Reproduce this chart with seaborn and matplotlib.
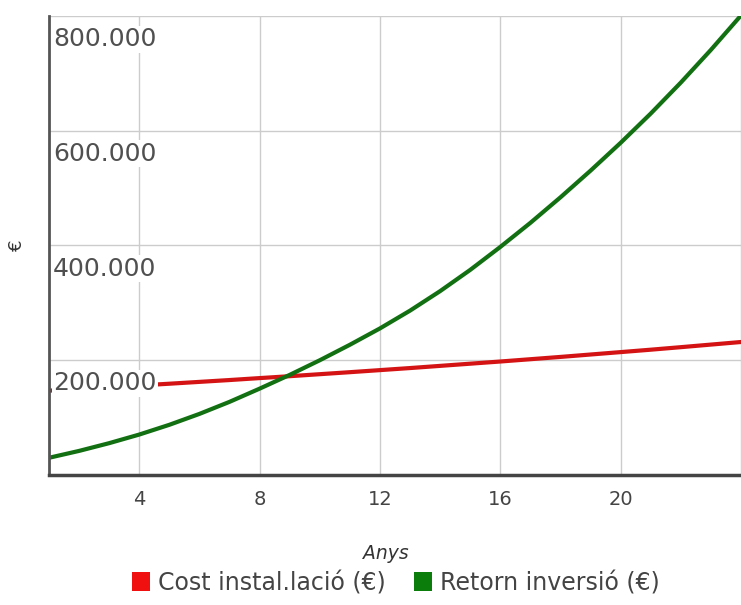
import matplotlib
matplotlib.use("Agg")
import matplotlib.pyplot as plt
import matplotlib.transforms as mtransforms
from matplotlib.patches import Patch
import pandas as pd
import seaborn as sns

# Years of the installation's life
anys = list(range(1, 25))

# Installation cost (EUR), growing slowly over time
cost_installacio = [
    147000, 149900, 152900, 156000, 159100, 162300, 165500, 168900,
    172200, 175700, 179200, 182800, 186400, 190200, 194000, 197800,
    201800, 205800, 210000, 214200, 218400, 222800, 227300, 231800,
]

# Accumulated return on investment (EUR)
retorn_inversio = [
    30000, 42000, 55500, 70500, 87500, 106500, 127500, 150500,
    174500, 200000, 227000, 255500, 286500, 320500, 357500, 397500,
    439500, 484000, 530500, 579000, 630000, 684000, 741000, 801000,
]

serie_cost = "Cost instal.lació (€)"
serie_retorn = "Retorn inversió (€)"
colors = {serie_cost: "#d41414", serie_retorn: "#127012"}
swatch = {serie_cost: "#f01010", serie_retorn: "#0a7d0a"}

y_ticks = [200000, 400000, 600000, 800000]
y_tick_labels = ["200.000", "400.000", "600.000", "800.000"]
x_ticks = [4, 8, 12, 16, 20]
x_tick_labels = ["4", "8", "12", "16", "20"]

df = pd.DataFrame({
    "Anys": anys * 2,
    "valor": cost_installacio + retorn_inversio,
    "serie": [serie_cost] * len(anys) + [serie_retorn] * len(anys),
})

sns.set_style("white")
plt.rcParams["font.family"] = ["DejaVu Sans"]

W, H = 741, 605
fig = plt.figure(figsize=(W / 100, H / 100), dpi=100)
ax = fig.add_axes([49 / W, 1 - 475 / H, 692 / W, 459 / H])

sns.lineplot(data=df, x="Anys", y="valor", hue="serie", palette=colors,
             linewidth=3.0, ax=ax, legend=False, zorder=3)

ax.set_xlim(1, 24)
ax.set_ylim(0, 800000)

# grid
ax.set_xticks(x_ticks + [24])
ax.set_xticklabels(x_tick_labels + [""])
ax.set_yticks(y_ticks)
ax.set_yticklabels([])
ax.grid(True, color="#cccccc", linewidth=1.0, zorder=0)
ax.set_axisbelow(True)
ax.tick_params(axis="both", length=0)
ax.tick_params(axis="x", labelsize=14, labelcolor="#444444", pad=11)

for side in ["top", "right"]:
    ax.spines[side].set_visible(False)
ax.spines["left"].set_color("#555555")
ax.spines["left"].set_linewidth(2.0)
ax.spines["left"].set_zorder(6)
ax.spines["bottom"].set_color("#444444")
ax.spines["bottom"].set_linewidth(2.5)
ax.spines["bottom"].set_zorder(6)

# value labels drawn inside the plot, just under each gridline
below = mtransforms.offset_copy(ax.transData, fig=fig, x=4, y=-23, units="dots")
for v, lab in zip(y_ticks, y_tick_labels):
    ax.text(ax.get_xlim()[0], v, lab, transform=below, ha="left", va="center",
            fontsize=18, color="#505050", zorder=5,
            bbox=dict(facecolor="white", edgecolor="none", pad=1.0))

ax.set_xlabel("Anys", fontsize=13.5, style="italic", color="#333333")
ax.xaxis.set_label_coords((386 - 49) / 692, -0.15)
ax.set_ylabel("€", fontsize=13, color="#333333", labelpad=13)

handles = [Patch(facecolor=swatch[s], edgecolor="none", label=s)
           for s in (serie_cost, serie_retorn)]
fig.legend(handles=handles, loc="center", bbox_to_anchor=(396 / W, 1 - 583 / H),
           ncol=2, frameon=False, fontsize=17, handlelength=0.75,
           handleheight=0.85, handletextpad=0.35, columnspacing=1.2,
           labelcolor="#444444")

fig.savefig("out.png", dpi=100)
